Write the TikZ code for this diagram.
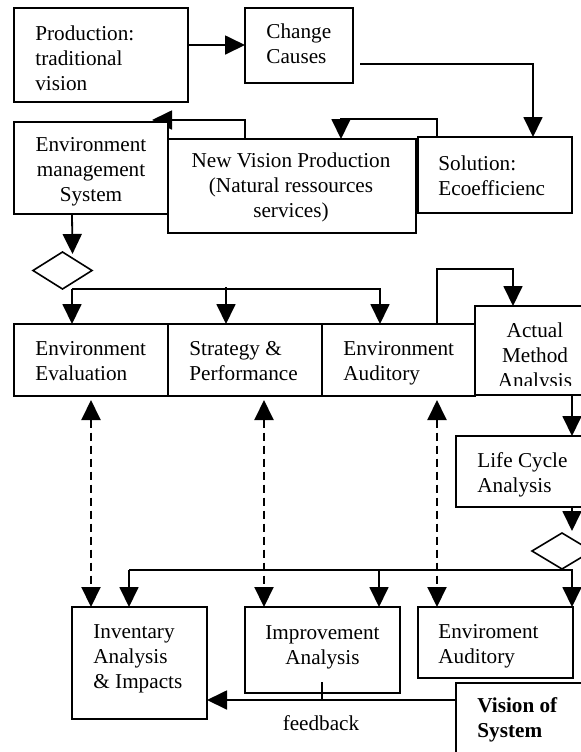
\documentclass[tikz,border=0pt]{standalone}
\usepackage{fontspec}
\setmainfont{Liberation Serif}
\usetikzlibrary{arrows.meta,calc,shapes.geometric,backgrounds}

\begin{document}
\begin{tikzpicture}[x=0.5pt,y=-0.5pt,
  box/.style={draw,line width=1pt,fill=white,rectangle,inner sep=0pt,outer sep=0pt,anchor=north west},
  lbl/.style={inner sep=0pt,font=\fontsize{10.6}{12.4}\selectfont},
  decide/.style={diamond,draw,line width=0.8pt,fill=white,inner sep=0pt,outer sep=0pt},
  tip/.tip={Triangle[length=10pt,width=9.5pt]},
  conn/.style={line width=0.9pt},
  arr/.style={conn,-tip},
  darr/.style={tip-tip,line width=1pt,dash pattern=on 4pt off 2.5pt}
]
\path[use as bounding box] (0,0) rectangle (581,752);
\clip (0,0) rectangle (581,752);

% ---- boxes ----
\node[box,minimum width=87pt,minimum height=47pt] (pv) at (14,8) {};
\node[box,minimum width=54pt,minimum height=37.5pt] (cc) at (245,8) {};
\node[box,minimum width=124pt,minimum height=47pt] (nv) at (168,139) {};
\node[box,minimum width=77pt,minimum height=38pt] (sol) at (418,137) {};
\node[box,minimum width=77pt,minimum height=46pt] (em) at (14,122) {};

\node[box,minimum width=77pt,minimum height=36pt] (ev) at (14,324) {};
\node[box,minimum width=77pt,minimum height=36pt] (sp) at (168,324) {};
\node[box,minimum width=76.5pt,minimum height=36pt] (ea) at (322,324) {};
\node[box,minimum width=60pt,minimum height=44.5pt] (am) at (475,306) {};
\node[box,minimum width=77pt,minimum height=35.5pt] (lc) at (456,436) {};

\node[box,minimum width=67.5pt,minimum height=56pt] (inv) at (72,607) {};
\node[box,minimum width=77.5pt,minimum height=43pt] (imp) at (245,607) {};
\node[box,minimum width=77.5pt,minimum height=35.5pt] (eaud) at (418,607) {};
\node[box,minimum width=77pt,minimum height=50pt] (vis) at (456,683) {};

\node[decide,minimum width=29.5pt,minimum height=18.5pt] (d1) at (62.5,270.5) {};
\node[decide,minimum width=30pt,minimum height=18pt] (d2) at (562,551) {};

% ---- texts (placed at the baseline of their last line) ----
\node[lbl,anchor=base west,align=left] (tpv) at (35,90) {Production:\\traditional\\vision};
\node[lbl,anchor=base west,align=left] (tcc) at (266,63) {Change\\Causes};
\node[lbl,anchor=base west,align=left] (tsol) at (438,195) {Solution:\\Ecoefficienc};
\node[lbl,anchor=base,align=center] (tem) at (91,201) {Environment\\management\\System};
\node[lbl,anchor=base,align=center] (tnv) at (291,217) {New Vision Production\\(Natural ressources\\services)};
\node[lbl,anchor=base west,align=left] (tev) at (35,380) {Environment\\Evaluation};
\node[lbl,anchor=base west,align=left] (tsp) at (189,380) {Strategy \&\\Performance};
\node[lbl,anchor=base west,align=left] (tea) at (343,380) {Environment\\Auditory};
\begin{scope}
  \clip (475,306) rectangle (595,385);
  \node[lbl,anchor=base,align=center] (tam) at (535,387) {Actual\\Method\\Analysis};
\end{scope}
\node[lbl,anchor=base west,align=left] (tlc) at (477,492) {Life Cycle\\Analysis};
\node[lbl,anchor=base west,align=left] (tinv) at (93,688) {Inventary\\Analysis\\\& Impacts};
\node[lbl,anchor=base,align=center] (timp) at (322.5,664) {Improvement\\Analysis};
\node[lbl,anchor=base west,align=left] (teaud) at (438,663) {Enviroment\\Auditory};
\node[lbl,anchor=base west,align=left,font=\fontsize{10.6}{12.4}\selectfont\bfseries] (tvis) at (477,737) {Vision of\\System};

% ---- connectors ----
\draw[arr] ($(pv.north east)+(0,37)$) -- ($(cc.north west)+(0,37)$);
\draw[arr] ($(cc.south east)+(7,-19)$) -| ($(sol.north west)+(115,0)$);
\draw[arr] ($(sol.north west)+(19,0)$) -- ++(0,-18) -| ($(nv.north west)+(173,0)$);
\begin{pgfonlayer}{background}
  \draw[arr] ($(nv.north west)+(77,0)$) -- ++(0,-19) -- ($(em.north east)+(-16,-2)$);
\end{pgfonlayer}
\draw[arr] ($(em.south west)+(58,0)$) -- ($(d1.north)+(10,2)$);

\coordinate (b1l) at ($(ev.north west)+(58,-35)$);
\coordinate (b1r) at ($(ea.north west)+(58,-35)$);
\draw[arr] (b1l) -- ($(ev.north west)+(58,0)$);
\draw[arr] (b1l) -- (b1r) -- ($(ea.north west)+(58,0)$);
\draw[arr] ($(sp.north west)+(58,-37)$) -- ($(sp.north west)+(58,0)$);

\draw[arr] ($(ea.north west)+(115,0)$) -- ++(0,-55) -| ($(am.north west)+(38,0)$);
\draw[arr] ($(am.south west)+(97,0)$) -- ($(lc.north west)+(116,0)$);
\draw[arr] ($(lc.south west)+(116,0)$) -- ($(d2.north)+(10,-2)$);

\coordinate (b2l) at ($(inv.north west)+(57,-37)$);
\coordinate (b2r) at ($(eaud.north west)+(154,-37)$);
\draw[arr] (b2l) -- ($(inv.north west)+(57,0)$);
\draw[arr] (b2l) -- (b2r) -- ($(eaud.north west)+(154,0)$);
\draw[arr] ($(imp.north west)+(134,-37)$) -- ($(imp.north west)+(134,0)$);

\draw[darr] ($(ev.south west)+(77,4)$) -- ($(inv.north west)+(19,0)$);
\draw[darr] ($(sp.south west)+(96,4)$) -- ($(imp.north west)+(19,0)$);
\draw[darr] ($(ea.south west)+(115,4)$) -- ($(eaud.north west)+(19,0)$);

\draw[arr] ($(vis.north west)+(0,17)$) -- ($(inv.north east)+(0,93)$);
\draw[conn] ($(imp.south west)+(77,-11)$) -- ($(imp.south west)+(77,7)$);
\node[lbl,anchor=base] (fb) at (321,730) {feedback};
\end{tikzpicture}
\end{document}
